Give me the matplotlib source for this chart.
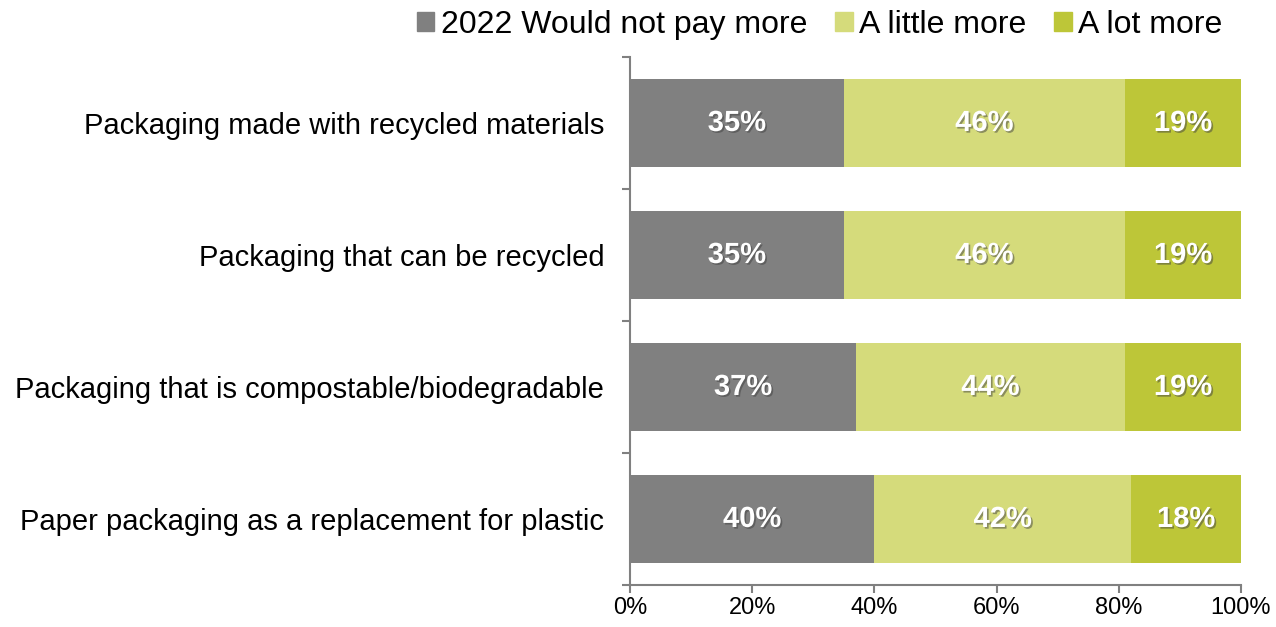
import matplotlib.pyplot as plt
import matplotlib.patheffects as pe
from matplotlib.patches import Patch
import numpy as np

plt.rcParams['font.family'] = ['Liberation Sans', 'DejaVu Sans']

categories = ['Packaging made with recycled materials',
              'Packaging that can be recycled',
              'Packaging that is compostable/biodegradable',
              'Paper packaging as a replacement for plastic']
not_more = [35, 35, 37, 40]
little_more = [46, 46, 44, 42]
lot_more = [19, 19, 19, 18]
series_names = ['2022 Would not pay more', 'A little more', 'A lot more']
colors = ['#808080', '#D5DB7B', '#BDC638']

fig = plt.figure(figsize=(12.76, 6.27), dpi=100)
ax = fig.add_axes([630/1276, 1-585/627, 611/1276, 528/627])

y = np.arange(len(categories))
left = np.zeros(len(categories))
shadow = [pe.SimplePatchShadow(offset=(1.2, -1.2), shadow_rgbFace='#404040', alpha=0.5), pe.Normal()]
for vals, col in zip([not_more, little_more, lot_more], colors):
    vals = np.array(vals)
    ax.barh(y, vals, left=left, height=0.667, color=col)
    for yi, l, v in zip(y, left, vals):
        ax.text(l + v / 2, yi, f'{v}%', ha='center', va='center', color='white',
                fontsize=21, fontweight='bold', path_effects=shadow)
    left += vals

ax.set_xlim(0, 100)
ax.set_ylim(len(categories) - 0.5, -0.5)
ax.set_xticks(range(0, 101, 20))
ax.set_xticklabels([f'{t}%' for t in range(0, 101, 20)], fontsize=17)
ax.set_yticks(np.arange(-0.5, len(categories), 1))
ax.set_yticklabels([])
ax.set_yticks(y, minor=True)
ax.set_yticklabels(categories, minor=True, fontsize=21)
ax.tick_params(axis='y', which='minor', length=0, pad=18.5)
ax.tick_params(axis='y', which='major', length=6, color='#808080', width=1.5)
ax.tick_params(axis='x', length=6, color='#808080', width=1.5, pad=3)
for s in ['top', 'right']:
    ax.spines[s].set_visible(False)
for s in ['left', 'bottom']:
    ax.spines[s].set_color('#808080')
    ax.spines[s].set_linewidth(1.5)

handles = [Patch(color=c) for c in colors]
fig.legend(handles, series_names, loc='upper right', bbox_to_anchor=(1251/1276, 1.03),
           ncol=3, frameon=False, fontsize=23, handlelength=0.55, handleheight=0.55,
           handletextpad=0.2, columnspacing=0.87)

fig.savefig('out.png', dpi=100)
